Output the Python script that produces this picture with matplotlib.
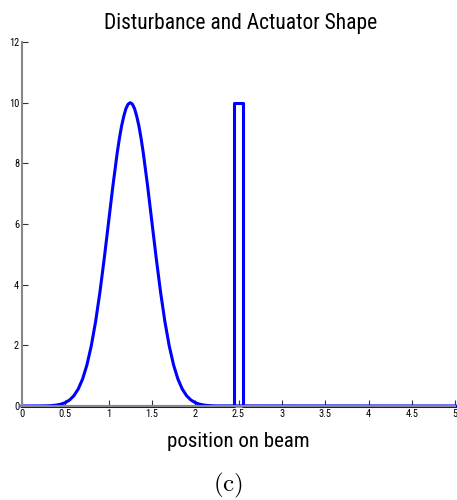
import numpy as np
import matplotlib
matplotlib.use('Agg')
import matplotlib.pyplot as plt

plt.rcParams['font.family'] = ['Roboto Condensed', 'Open Sans Condensed',
                               'Liberation Sans Narrow', 'Liberation Sans']
plt.rcParams['mathtext.fontset'] = 'cm'

# disturbance shape
dist_x = [0.0, 0.25, 0.3, 0.35, 0.4, 0.45, 0.5, 0.55, 0.6, 0.65, 0.7, 0.75, 0.8,
          0.85, 0.9, 0.95, 1.0, 1.05, 1.1, 1.125, 1.15, 1.175, 1.2, 1.225, 1.25,
          1.275, 1.3, 1.325, 1.35, 1.375, 1.4, 1.45, 1.5, 1.55, 1.6, 1.65,
          1.7, 1.75, 1.8, 1.85, 1.9, 1.95, 2.0, 2.05, 2.1, 2.15, 2.2, 2.25, 5.0]
dist_y = [0.0, 0.003, 0.007, 0.015, 0.031, 0.06, 0.111, 0.198, 0.34, 0.561, 0.889,
          1.353, 1.979, 2.78, 3.753, 4.868, 6.065, 7.261, 8.353, 8.825, 9.231,
          9.55, 9.802, 9.95, 10.0, 9.95, 9.802, 9.55, 9.231, 8.825, 8.353,
          7.261, 6.065, 4.868, 3.753, 2.78, 1.979, 1.353, 0.889, 0.561, 0.34,
          0.198, 0.111, 0.06, 0.031, 0.015, 0.007, 0.003, 0.0]

# actuator shape (rectangular patch)
act_x = [0.0, 2.45, 2.45, 2.55, 2.55, 5.0]
act_y = [0.0, 0.0, 10.0, 10.0, 0.0, 0.0]

xticks = [0, 0.5, 1, 1.5, 2, 2.5, 3, 3.5, 4, 4.5, 5]
xticklabels = ['0', '0.5', '1', '1.5', '2', '2.5', '3', '3.5', '4', '4.5', '5']
yticks = [0, 2, 4, 6, 8, 10, 12]

fig = plt.figure(figsize=(4.57, 5.0), dpi=100)
ax = fig.add_axes([0.048, 0.188, 0.948, 0.728])

ax.plot(dist_x, dist_y, color='#0000ff', linewidth=2.2, clip_on=False)
ax.plot(act_x, act_y, color='#0000ff', linewidth=2.2, clip_on=False)

ax.set_xlim(0, 5)
ax.set_ylim(0, 12)
ax.set_xticks(xticks)
ax.set_xticklabels(xticklabels)
ax.set_yticks(yticks)
ax.tick_params(direction='in', length=4, width=0.8, labelsize=7.5, pad=2,
               color='#333333')

for s in ['top', 'right']:
    ax.spines[s].set_visible(False)
for s in ['left', 'bottom']:
    ax.spines[s].set_color('#888888')
    ax.spines[s].set_linewidth(1.5)

fig.text(0.526, 0.9414, 'Disturbance and Actuator Shape', ha='center',
         va='baseline', fontsize=15.5)
fig.text(0.521, 0.1066, 'position on beam', ha='center', va='baseline',
         fontsize=15)
fig.text(0.499, 0.029, r'$(\mathrm{c})$', ha='center', va='center', fontsize=18)

fig.savefig('out.png', dpi=100)
